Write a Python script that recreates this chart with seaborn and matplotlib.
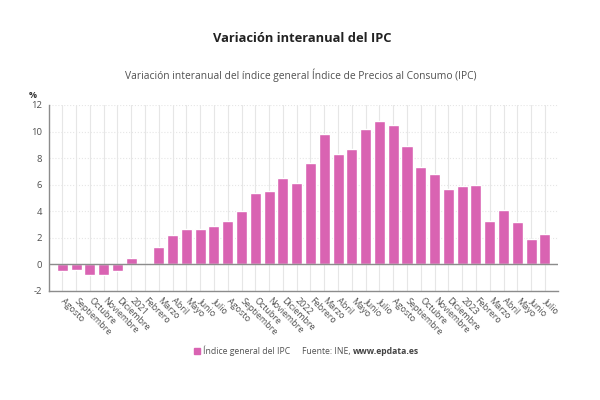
import numpy as np
import pandas as pd
import seaborn as sns
import matplotlib.pyplot as plt
from matplotlib.patches import Patch

# -----------------------------------------
# Data: monthly year-on-year IPC change (%)
# -----------------------------------------
months = ["Agosto", "Septiembre", "Octubre", "Noviembre", "Diciembre",
          "2021", "Febrero", "Marzo", "Abril", "Mayo", "Junio", "Julio",
          "Agosto", "Septiembre", "Octubre", "Noviembre", "Diciembre",
          "2022", "Febrero", "Marzo", "Abril", "Mayo", "Junio", "Julio",
          "Agosto", "Septiembre", "Octubre", "Noviembre", "Diciembre",
          "2023", "Febrero", "Marzo", "Abril", "Mayo", "Junio", "Julio"]
ipc = [-0.5, -0.4, -0.8, -0.8, -0.5, 0.5, 0.0, 1.3, 2.2, 2.7, 2.7, 2.9,
       3.3, 4.0, 5.4, 5.5, 6.5, 6.1, 7.6, 9.8, 8.3, 8.7, 10.2, 10.8,
       10.5, 8.9, 7.3, 6.8, 5.7, 5.9, 6.0, 3.3, 4.1, 3.2, 1.9, 2.3]
y_ticks = [-2, 0, 2, 4, 6, 8, 10, 12]

BAR_COLOR = "#d963b2"
TEXT_COLOR = "#505050"

df = pd.DataFrame({"pos": np.arange(len(months)), "ipc": ipc})

sns.set_theme(style="white")
plt.rcParams["font.family"] = ["Open Sans", "DejaVu Sans"]

fig = plt.figure(figsize=(6, 4), dpi=100)
ax = fig.add_axes([0.082, 0.2725, 0.848, 0.465])

sns.barplot(data=df, x="pos", y="ipc", color=BAR_COLOR, saturation=1,
            width=0.8, ax=ax, zorder=3)

ax.set_xlim(-0.95, len(months) - 0.05)
ax.set_ylim(-2, 12)
ax.set_yticks(y_ticks)
ax.set_yticklabels([str(t) for t in y_ticks], fontsize=6.8, color=TEXT_COLOR)
ax.set_xticks(np.arange(len(months)))
ax.set_xticklabels(months, rotation=-45, ha="left", va="center",
                   rotation_mode="anchor", fontsize=6.5, color=TEXT_COLOR)
ax.set_xlabel("")
ax.set_ylabel("")

# grid
ax.grid(axis="x", color="#e6e6e6", linewidth=0.8, zorder=0)
ax.grid(axis="y", color="#e6e6e6", linewidth=0.8, linestyle=":", zorder=0)
ax.axhline(0, color="#8c8c8c", linewidth=1, zorder=4)

for side in ["top", "right"]:
    ax.spines[side].set_visible(False)
for side in ["left", "bottom"]:
    ax.spines[side].set_color("#8c8c8c")
    ax.spines[side].set_linewidth(1)
ax.tick_params(axis="y", length=3, width=0.8, color="#8c8c8c", pad=2)
ax.tick_params(axis="x", length=3, width=0.8, color="#8c8c8c", pad=3)

# titles
fig.text(0.503, 0.905, "Variación interanual del IPC", ha="center",
         va="center", fontsize=9.3, fontweight="bold", color="#222222")
fig.text(0.502, 0.8125,
         "Variación interanual del índice general Índice de Precios al Consumo (IPC)",
         ha="center", va="center", fontsize=7.4, color=TEXT_COLOR)
fig.text(0.048, 0.762, "%", ha="left", va="center", fontsize=6.5,
         fontweight="bold", color="#333333")

# legend + source
fig.legend(handles=[Patch(color=BAR_COLOR)], labels=["Índice general del IPC"],
           loc="center left", bbox_to_anchor=(0.31, 0.122), frameon=False,
           fontsize=6.2, handlelength=0.7, handleheight=0.7, handletextpad=0.4,
           labelcolor=TEXT_COLOR)
src = fig.text(0.503, 0.122, "Fuente: INE, ", ha="left", va="center",
               fontsize=6.2, color=TEXT_COLOR)
fig.canvas.draw()
bb = src.get_window_extent().transformed(fig.transFigure.inverted())
fig.text(bb.x1, 0.122, "www.epdata.es", ha="left", va="center",
         fontsize=6.2, fontweight="bold", color="#444444")

fig.savefig("out.png", dpi=100, facecolor="white")
plt.close(fig)
